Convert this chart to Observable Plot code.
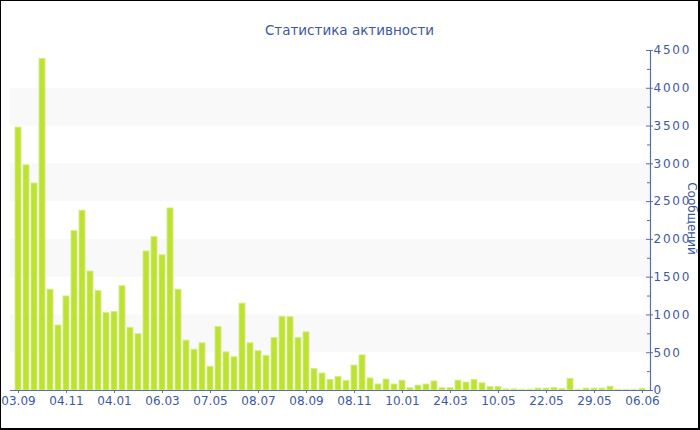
<!DOCTYPE html>
<html>
<head>
<meta charset="utf-8">
<script src="https://cdn.jsdelivr.net/npm/d3@7"></script>
<script src="https://cdn.jsdelivr.net/npm/@observablehq/plot@0.6"></script>
<style>
  html, body { margin: 0; padding: 0; background: #fff; }
  #wrap { position: relative; width: 700px; height: 430px; overflow: hidden; }
  #border { position: absolute; left: 0; top: 0; width: 700px; height: 430px; box-sizing: border-box;
            border-left: 1px solid #000; border-top: 1px solid #000; border-right: 2px solid #000; border-bottom: 2px solid #000; pointer-events: none; }
  svg { display: block; }
</style>
</head>
<body>
<div id="wrap"><div id="border"></div></div>
<script>
const title = "Статистика активности";
const yLabel = "Сообщений";

// Messages per period (79 bars)
const values = [
  3480, 2980, 2740, 4390, 1335, 860, 1245, 2110, 2380, 1575,
  1315, 1025, 1040, 1380, 830, 745, 1840, 2030, 1790, 2410,
  1335, 660, 540, 625, 315, 840, 505, 440, 1150, 625,
  520, 460, 695, 975, 970, 695, 770, 285, 225, 140,
  180, 125, 330, 465, 160, 80, 145, 80, 130, 30,
  65, 80, 120, 30, 30, 130, 105, 140, 95, 45,
  45, 15, 15, 10, 10, 25, 25, 35, 20, 155,
  5, 25, 25, 25, 50, 5, 5, 5, 20
];

// Labels shown on the x axis (every 6th bar)
const tickLabels = ["03.09", "04.11", "04.01", "06.03", "07.05", "08.07", "08.09",
                    "08.11", "10.01", "24.03", "10.05", "22.05", "29.05", "06.06"];
const tickEvery = 6;

const yTicks = [0, 500, 1000, 1500, 2000, 2500, 3000, 3500, 4000, 4500];
const yMinorTicks = [250, 750, 1250, 1750, 2250, 2750, 3250, 3750, 4250];
const bands = [[500, 1000], [1500, 2000], [2500, 3000], [3500, 4000]];

const data = values.map((v, i) => ({i, v}));
const categories = data.map(d => d.i);
const tickCats = tickLabels.map((_, k) => k * tickEvery);
const labelOf = new Map(tickCats.map((c, k) => [c, tickLabels[k]]));

const blue = "#3e58a2";
const axisBlue = "#5a6eab";
const font = "DejaVu Sans, Verdana, sans-serif";

const plot = Plot.plot({
  width: 700,
  height: 430,
  marginTop: 50,
  marginBottom: 40,
  marginLeft: 10,
  marginRight: 50,
  style: {fontFamily: font, fontSize: "12px", color: blue, background: "transparent"},
  x: {type: "band", domain: categories, padding: 0.2, axis: null},
  y: {domain: [0, 4500], axis: null},
  marks: [
    Plot.rect(bands, {y1: d => d[0], y2: d => d[1], fill: "#f9f9f9"}),
    Plot.barY(data, {x: "i", y: "v", fill: "#bde232", stroke: "#d6ee86", strokeWidth: 0.8}),
    Plot.frame({anchor: "bottom", stroke: axisBlue, strokeWidth: 1.2}),
    Plot.frame({anchor: "right", stroke: axisBlue, strokeWidth: 1.2}),
    Plot.axisX({
      ticks: tickCats, tickFormat: d => labelOf.get(d), tickSize: 3, tickPadding: 3,
      stroke: axisBlue, fill: blue, fontSize: 12, label: null
    }),
    Plot.ruleY(yMinorTicks, {insetLeft: 637, stroke: axisBlue}),
    Plot.ruleY(yTicks, {insetLeft: 636, insetRight: -3, stroke: axisBlue}),
    Plot.axisY({
      anchor: "right", ticks: yTicks, tickFormat: d => String(d), tickSize: 0, tickPadding: 3,
      fill: blue, fontSize: 12, label: null
    }),
    Plot.text([yLabel], {frameAnchor: "right", textAnchor: "middle", rotate: 90, dx: 41, dy: -2, text: d => d, fill: blue, fontSize: 12}),
    Plot.text([title], {frameAnchor: "top", textAnchor: "middle", dy: -25, dx: 19, text: d => d, fill: blue, fontSize: 13.5})
  ]
});

document.getElementById("wrap").insertBefore(plot, document.getElementById("border"));
d3.select(plot).selectAll("[aria-label='y-axis tick label'] text").attr("letter-spacing", "1.8px");
</script>
</body>
</html>
